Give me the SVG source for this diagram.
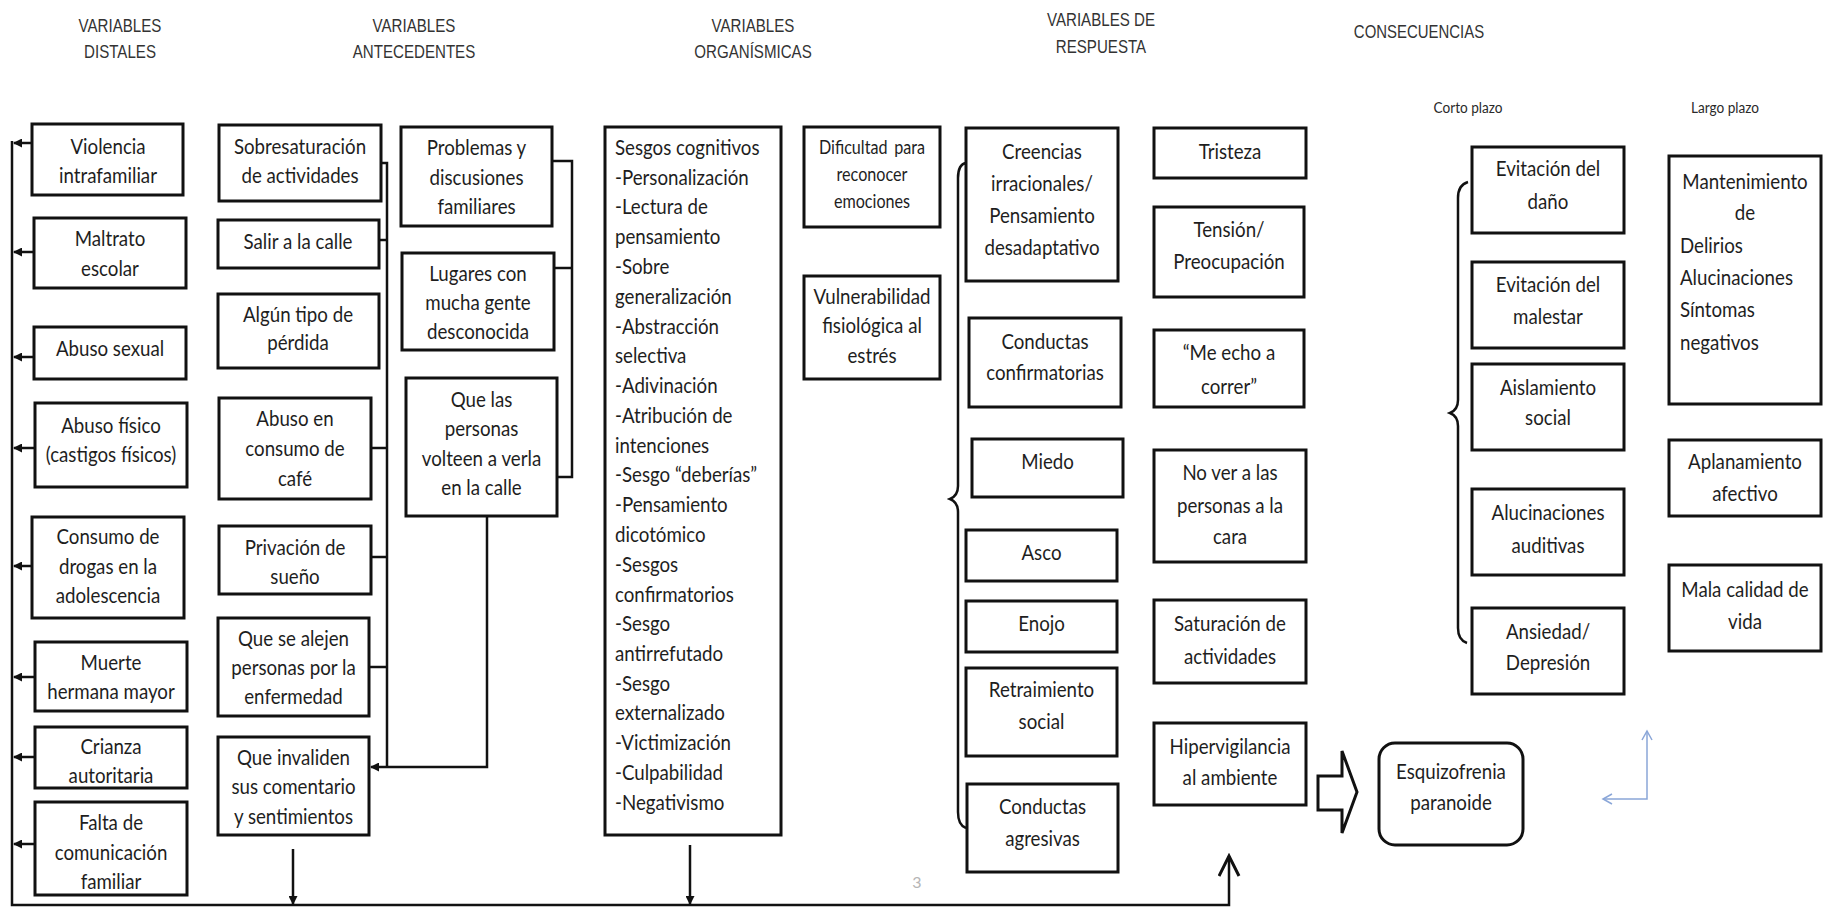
<svg xmlns="http://www.w3.org/2000/svg" width="1828" height="908" viewBox="0 0 1828 908">
<style>
.box{fill:#fff;stroke:#111;stroke-width:3}
.t{font-family:Lato,"Open Sans",sans-serif;font-size:22px;fill:#1e1e1e;text-anchor:middle}
.tl{font-family:Lato,"Open Sans",sans-serif;font-size:22px;fill:#1e1e1e;text-anchor:start}
.ts{font-family:Lato,"Open Sans",sans-serif;font-size:19px;fill:#1e1e1e;text-anchor:middle;word-spacing:3px}
.sub{font-family:Lato,"Open Sans",sans-serif;font-size:16px;fill:#2a2a2a;text-anchor:middle}
.h{font-family:"Liberation Sans",Arial,sans-serif;font-size:18px;fill:#333;text-anchor:middle}
.ln{fill:none;stroke:#111;stroke-width:2.5}
.blue{fill:none;stroke:#8aa6d8;stroke-width:1.5}
</style>
<defs>
<marker id="arr" markerUnits="userSpaceOnUse" markerWidth="9" markerHeight="9" refX="8" refY="4.5" orient="auto"><path d="M0,0 L9,4.5 L0,9 z" fill="#111"/></marker>
<marker id="vopen" markerUnits="userSpaceOnUse" markerWidth="24" markerHeight="24" refX="21" refY="11" orient="auto"><path d="M1,1 L21,11 L1,21" fill="none" stroke="#111" stroke-width="3"/></marker>
<marker id="bopen" markerUnits="userSpaceOnUse" markerWidth="12" markerHeight="14" refX="10" refY="6" orient="auto-start-reverse"><path d="M1,1 L10,6 L1,11" fill="none" stroke="#8aa6d8" stroke-width="1.5"/></marker>
</defs>
<rect width="1828" height="908" fill="#fff"/>

<g id="headers">
<text class="h" transform="matrix(0.84 0 0 1 120 0)"><tspan x="0" y="32">VARIABLES</tspan><tspan x="0" y="58">DISTALES</tspan></text>
<text class="h" transform="matrix(0.84 0 0 1 414 0)"><tspan x="0" y="32">VARIABLES</tspan><tspan x="0" y="58">ANTECEDENTES</tspan></text>
<text class="h" transform="matrix(0.84 0 0 1 753 0)"><tspan x="0" y="32">VARIABLES</tspan><tspan x="0" y="58">ORGANÍSMICAS</tspan></text>
<text class="h" transform="matrix(0.84 0 0 1 1101 0)"><tspan x="0" y="26">VARIABLES DE</tspan><tspan x="0" y="53">RESPUESTA</tspan></text>
<text class="h" transform="matrix(0.83 0 0 1 1419 0)"><tspan x="0" y="38">CONSECUENCIAS</tspan></text>
<text class="sub" transform="matrix(0.85 0 0 1 1468 0)"><tspan x="0" y="113">Corto plazo</tspan></text>
<text class="sub" transform="matrix(0.85 0 0 1 1725 0)"><tspan x="0" y="113">Largo plazo</tspan></text>
<text x="917" y="888" style="font-family:Lato,sans-serif;font-size:16px;fill:#b5b5b5;text-anchor:middle">3</text>
</g>

<g id="connectors">
<path class="ln" d="M12,141 L12,905 L1229,905 L1229,856" marker-end="url(#vopen)"/>
<path class="ln" d="M32,143 L14,143" marker-end="url(#arr)"/>
<path class="ln" d="M34,252 L14,252" marker-end="url(#arr)"/>
<path class="ln" d="M34,357 L14,357" marker-end="url(#arr)"/>
<path class="ln" d="M35,448 L14,448" marker-end="url(#arr)"/>
<path class="ln" d="M32,566 L14,566" marker-end="url(#arr)"/>
<path class="ln" d="M35,677 L14,677" marker-end="url(#arr)"/>
<path class="ln" d="M35,757 L14,757" marker-end="url(#arr)"/>
<path class="ln" d="M35,844 L14,844" marker-end="url(#arr)"/>
<path class="ln" d="M381,163 L387,163 L387,767"/>
<path class="ln" d="M379,240 L387,240"/>
<path class="ln" d="M371,448 L387,448"/>
<path class="ln" d="M371,557 L387,557"/>
<path class="ln" d="M369,667 L387,667"/>
<path class="ln" d="M487,516 L487,767 L371,767" marker-end="url(#arr)"/>
<path class="ln" d="M552,161 L572,161 L572,477 L557,477"/>
<path class="ln" d="M554,268 L572,268"/>
<path class="ln" d="M293,849 L293,904" marker-end="url(#arr)"/>
<path class="ln" d="M690,845 L690,904" marker-end="url(#arr)"/>
<path class="ln" d="M966,163 C960,164 958,170 958,178 L958,486 C958,493 955,497 950,499 C955,501 958,505 958,512 L958,812 C958,820 960,826 966,828"/>
<path class="ln" d="M1468,182 C1461,184 1458,190 1458,198 L1458,400 C1458,407 1455,411 1450,413 C1455,415 1458,419 1458,426 L1458,628 C1458,636 1461,641 1467,643"/>
<polygon points="1318,776 1342,776 1342,751 1357,792 1342,833 1342,810 1318,810" fill="#fff" stroke="#111" stroke-width="3" stroke-linejoin="miter"/>
<path class="blue" d="M1647,731 L1647,799 L1603,799" marker-start="url(#bopen)" marker-end="url(#bopen)"/>
</g>

<g id="n_violencia"><rect class="box" x="32" y="124" width="151" height="71"/><text class="t" transform="matrix(0.85 0 0 1 108 0)"><tspan x="0" y="154">Violencia</tspan><tspan x="0" y="183">intrafamiliar</tspan></text></g>
<g id="n_maltrato"><rect class="box" x="34" y="218" width="152" height="70"/><text class="t" transform="matrix(0.85 0 0 1 110 0)"><tspan x="0" y="246">Maltrato</tspan><tspan x="0" y="276">escolar</tspan></text></g>
<g id="n_abusosexual"><rect class="box" x="34" y="327" width="152" height="52"/><text class="t" transform="matrix(0.85 0 0 1 110 0)"><tspan x="0" y="356">Abuso sexual</tspan></text></g>
<g id="n_abusofisico"><rect class="box" x="35" y="403" width="152" height="84"/><text class="t" transform="matrix(0.85 0 0 1 111 0)"><tspan x="0" y="433">Abuso físico</tspan><tspan x="0" y="462">(castigos físicos)</tspan></text></g>
<g id="n_drogas"><rect class="box" x="32" y="517" width="152" height="101"/><text class="t" transform="matrix(0.85 0 0 1 108 0)"><tspan x="0" y="544">Consumo de</tspan><tspan x="0" y="574">drogas en la</tspan><tspan x="0" y="603">adolescencia</tspan></text></g>
<g id="n_muerte"><rect class="box" x="35" y="642" width="152" height="69"/><text class="t" transform="matrix(0.85 0 0 1 111 0)"><tspan x="0" y="670">Muerte</tspan><tspan x="0" y="699">hermana mayor</tspan></text></g>
<g id="n_crianza"><rect class="box" x="35" y="727" width="152" height="61"/><text class="t" transform="matrix(0.85 0 0 1 111 0)"><tspan x="0" y="754">Crianza</tspan><tspan x="0" y="783">autoritaria</tspan></text></g>
<g id="n_falta"><rect class="box" x="35" y="802" width="152" height="93"/><text class="t" transform="matrix(0.85 0 0 1 111 0)"><tspan x="0" y="830">Falta de</tspan><tspan x="0" y="860">comunicación</tspan><tspan x="0" y="889">familiar</tspan></text></g>

<g id="n_sobresat"><rect class="box" x="219" y="125" width="162" height="76"/><text class="t" transform="matrix(0.85 0 0 1 300 0)"><tspan x="0" y="154">Sobresaturación</tspan><tspan x="0" y="183">de actividades</tspan></text></g>
<g id="n_salir"><rect class="box" x="218" y="220" width="161" height="48"/><text class="t" transform="matrix(0.85 0 0 1 298 0)"><tspan x="0" y="249">Salir a la calle</tspan></text></g>
<g id="n_perdida"><rect class="box" x="218" y="294" width="161" height="74"/><text class="t" transform="matrix(0.85 0 0 1 298 0)"><tspan x="0" y="322">Algún tipo de</tspan><tspan x="0" y="350">pérdida</tspan></text></g>
<g id="n_cafe"><rect class="box" x="219" y="398" width="152" height="101"/><text class="t" transform="matrix(0.85 0 0 1 295 0)"><tspan x="0" y="426">Abuso en</tspan><tspan x="0" y="456">consumo de</tspan><tspan x="0" y="486">café</tspan></text></g>
<g id="n_sueno"><rect class="box" x="219" y="526" width="152" height="68"/><text class="t" transform="matrix(0.85 0 0 1 295 0)"><tspan x="0" y="555">Privación de</tspan><tspan x="0" y="584">sueño</tspan></text></g>
<g id="n_alejen"><rect class="box" x="218" y="618" width="151" height="98"/><text class="t" transform="matrix(0.85 0 0 1 293.5 0)"><tspan x="0" y="646">Que se alejen</tspan><tspan x="0" y="675">personas por la</tspan><tspan x="0" y="704">enfermedad</tspan></text></g>
<g id="n_invaliden"><rect class="box" x="218" y="737" width="151" height="98"/><text class="t" transform="matrix(0.85 0 0 1 293.5 0)"><tspan x="0" y="765">Que invaliden</tspan><tspan x="0" y="794">sus comentario</tspan><tspan x="0" y="824">y sentimientos</tspan></text></g>

<g id="n_problemas"><rect class="box" x="401" y="127" width="151" height="99"/><text class="t" transform="matrix(0.85 0 0 1 476.5 0)"><tspan x="0" y="155">Problemas y</tspan><tspan x="0" y="185">discusiones</tspan><tspan x="0" y="214">familiares</tspan></text></g>
<g id="n_lugares"><rect class="box" x="402" y="253" width="152" height="97"/><text class="t" transform="matrix(0.85 0 0 1 478 0)"><tspan x="0" y="281">Lugares con</tspan><tspan x="0" y="310">mucha gente</tspan><tspan x="0" y="339">desconocida</tspan></text></g>
<g id="n_volteen"><rect class="box" x="406" y="378" width="151" height="138"/><text class="t" transform="matrix(0.85 0 0 1 481.5 0)"><tspan x="0" y="407">Que las</tspan><tspan x="0" y="436">personas</tspan><tspan x="0" y="466">volteen a verla</tspan><tspan x="0" y="495">en la calle</tspan></text></g>

<g id="n_sesgos"><rect class="box" x="605" y="127" width="176" height="708"/><text class="tl" transform="matrix(0.85 0 0 1 615 0)"><tspan x="0" y="155">Sesgos cognitivos</tspan><tspan x="0" y="185">-Personalización</tspan><tspan x="0" y="214">-Lectura de</tspan><tspan x="0" y="244">pensamiento</tspan><tspan x="0" y="274">-Sobre</tspan><tspan x="0" y="304">generalización</tspan><tspan x="0" y="334">-Abstracción</tspan><tspan x="0" y="363">selectiva</tspan><tspan x="0" y="393">-Adivinación</tspan><tspan x="0" y="423">-Atribución de</tspan><tspan x="0" y="453">intenciones</tspan><tspan x="0" y="482">-Sesgo “deberías”</tspan><tspan x="0" y="512">-Pensamiento</tspan><tspan x="0" y="542">dicotómico</tspan><tspan x="0" y="572">-Sesgos</tspan><tspan x="0" y="602">confirmatorios</tspan><tspan x="0" y="631">-Sesgo</tspan><tspan x="0" y="661">antirrefutado</tspan><tspan x="0" y="691">-Sesgo</tspan><tspan x="0" y="720">externalizado</tspan><tspan x="0" y="750">-Victimización</tspan><tspan x="0" y="780">-Culpabilidad</tspan><tspan x="0" y="810">-Negativismo</tspan></text></g>

<g id="n_dificultad"><rect class="box" x="804" y="127" width="136" height="100"/><text class="ts" transform="matrix(0.85 0 0 1 872 0)"><tspan x="0" y="154">Dificultad para</tspan><tspan x="0" y="181">reconocer</tspan><tspan x="0" y="208">emociones</tspan></text></g>
<g id="n_vulnerabilidad"><rect class="box" x="804" y="276" width="136" height="103"/><text class="t" transform="matrix(0.85 0 0 1 872 0)"><tspan x="0" y="304">Vulnerabilidad</tspan><tspan x="0" y="333">fisiológica al</tspan><tspan x="0" y="363">estrés</tspan></text></g>

<g id="n_creencias"><rect class="box" x="966" y="128" width="152" height="153"/><text class="t" transform="matrix(0.85 0 0 1 1042 0)"><tspan x="0" y="159">Creencias</tspan><tspan x="0" y="191">irracionales/</tspan><tspan x="0" y="223">Pensamiento</tspan><tspan x="0" y="255">desadaptativo</tspan></text></g>
<g id="n_confirmatorias"><rect class="box" x="969" y="318" width="152" height="89"/><text class="t" transform="matrix(0.85 0 0 1 1045 0)"><tspan x="0" y="349">Conductas</tspan><tspan x="0" y="380">confirmatorias</tspan></text></g>
<g id="n_miedo"><rect class="box" x="972" y="439" width="151" height="58"/><text class="t" transform="matrix(0.85 0 0 1 1047.5 0)"><tspan x="0" y="469">Miedo</tspan></text></g>
<g id="n_asco"><rect class="box" x="966" y="530" width="151" height="51"/><text class="t" transform="matrix(0.85 0 0 1 1041.5 0)"><tspan x="0" y="560">Asco</tspan></text></g>
<g id="n_enojo"><rect class="box" x="966" y="601" width="151" height="51"/><text class="t" transform="matrix(0.85 0 0 1 1041.5 0)"><tspan x="0" y="631">Enojo</tspan></text></g>
<g id="n_retraimiento"><rect class="box" x="966" y="668" width="151" height="88"/><text class="t" transform="matrix(0.85 0 0 1 1041.5 0)"><tspan x="0" y="697">Retraimiento</tspan><tspan x="0" y="729">social</tspan></text></g>
<g id="n_agresivas"><rect class="box" x="967" y="784" width="151" height="88"/><text class="t" transform="matrix(0.85 0 0 1 1042.5 0)"><tspan x="0" y="814">Conductas</tspan><tspan x="0" y="846">agresivas</tspan></text></g>

<g id="n_tristeza"><rect class="box" x="1154" y="128" width="152" height="50"/><text class="t" transform="matrix(0.85 0 0 1 1230 0)"><tspan x="0" y="159">Tristeza</tspan></text></g>
<g id="n_tension"><rect class="box" x="1154" y="207" width="150" height="90"/><text class="t" transform="matrix(0.85 0 0 1 1229 0)"><tspan x="0" y="237">Tensión/</tspan><tspan x="0" y="269">Preocupación</tspan></text></g>
<g id="n_correr"><rect class="box" x="1154" y="330" width="150" height="77"/><text class="t" transform="matrix(0.85 0 0 1 1229 0)"><tspan x="0" y="360">“Me echo a</tspan><tspan x="0" y="394">correr”</tspan></text></g>
<g id="n_nover"><rect class="box" x="1154" y="450" width="152" height="112"/><text class="t" transform="matrix(0.85 0 0 1 1230 0)"><tspan x="0" y="480">No ver a las</tspan><tspan x="0" y="513">personas a la</tspan><tspan x="0" y="544">cara</tspan></text></g>
<g id="n_saturacion"><rect class="box" x="1154" y="600" width="152" height="83"/><text class="t" transform="matrix(0.85 0 0 1 1230 0)"><tspan x="0" y="631">Saturación de</tspan><tspan x="0" y="664">actividades</tspan></text></g>
<g id="n_hipervigilancia"><rect class="box" x="1154" y="723" width="152" height="82"/><text class="t" transform="matrix(0.85 0 0 1 1230 0)"><tspan x="0" y="754">Hipervigilancia</tspan><tspan x="0" y="785">al ambiente</tspan></text></g>

<g id="n_esquizofrenia"><rect class="box" x="1379" y="743" width="144" height="102" rx="16"/><text class="t" transform="matrix(0.85 0 0 1 1451 0)"><tspan x="0" y="779">Esquizofrenia</tspan><tspan x="0" y="810">paranoide</tspan></text></g>

<g id="n_evdano"><rect class="box" x="1472" y="147" width="152" height="86"/><text class="t" transform="matrix(0.85 0 0 1 1548 0)"><tspan x="0" y="176">Evitación del</tspan><tspan x="0" y="209">daño</tspan></text></g>
<g id="n_evmalestar"><rect class="box" x="1472" y="262" width="152" height="86"/><text class="t" transform="matrix(0.85 0 0 1 1548 0)"><tspan x="0" y="292">Evitación del</tspan><tspan x="0" y="324">malestar</tspan></text></g>
<g id="n_aislamiento"><rect class="box" x="1472" y="364" width="152" height="86"/><text class="t" transform="matrix(0.85 0 0 1 1548 0)"><tspan x="0" y="395">Aislamiento</tspan><tspan x="0" y="425">social</tspan></text></g>
<g id="n_alucaud"><rect class="box" x="1472" y="489" width="152" height="86"/><text class="t" transform="matrix(0.85 0 0 1 1548 0)"><tspan x="0" y="520">Alucinaciones</tspan><tspan x="0" y="553">auditivas</tspan></text></g>
<g id="n_ansiedad"><rect class="box" x="1472" y="608" width="152" height="86"/><text class="t" transform="matrix(0.85 0 0 1 1548 0)"><tspan x="0" y="639">Ansiedad/</tspan><tspan x="0" y="670">Depresión</tspan></text></g>

<g id="n_mantenimiento"><rect class="box" x="1669" y="156" width="152" height="248"/><text class="t" transform="matrix(0.85 0 0 1 1745 0)"><tspan x="0" y="189">Mantenimiento</tspan><tspan x="0" y="220">de</tspan></text><text class="tl" transform="matrix(0.85 0 0 1 1680 0)"><tspan x="0" y="253">Delirios</tspan><tspan x="0" y="285">Alucinaciones</tspan><tspan x="0" y="317">Síntomas</tspan><tspan x="0" y="350">negativos</tspan></text></g>
<g id="n_aplanamiento"><rect class="box" x="1669" y="440" width="152" height="76"/><text class="t" transform="matrix(0.85 0 0 1 1745 0)"><tspan x="0" y="469">Aplanamiento</tspan><tspan x="0" y="501">afectivo</tspan></text></g>
<g id="n_mala"><rect class="box" x="1669" y="565" width="152" height="86"/><text class="t" transform="matrix(0.85 0 0 1 1745 0)"><tspan x="0" y="597">Mala calidad de</tspan><tspan x="0" y="629">vida</tspan></text></g>
</svg>
